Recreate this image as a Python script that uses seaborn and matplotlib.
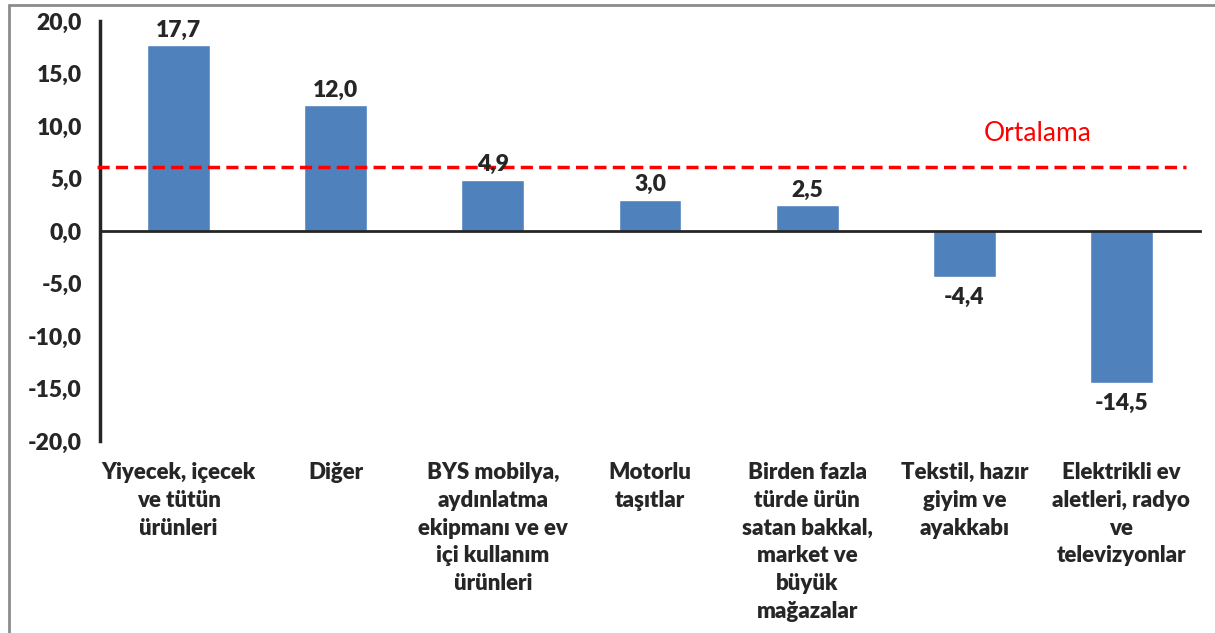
import matplotlib
matplotlib.use("Agg")
import matplotlib.pyplot as plt
from matplotlib.lines import Line2D
import numpy as np
import pandas as pd
import seaborn as sns

# chart data
categories = [
    "Yiyecek, içecek\nve tütün\nürünleri",
    "Diğer",
    "BYS mobilya,\naydınlatma\nekipmanı ve ev\niçi kullanım\nürünleri",
    "Motorlu\ntaşıtlar",
    "Birden fazla\ntürde ürün\nsatan bakkal,\nmarket ve\nbüyük\nmağazalar",
    "Tekstil, hazır\ngiyim ve\nayakkabı",
    "Elektrikli ev\naletleri, radyo\nve\ntelevizyonlar",
]
values = [17.7, 12.0, 4.9, 3.0, 2.5, -4.4, -14.5]
average = 6.1
average_label = "Ortalama"
y_ticks = [-20, -15, -10, -5, 0, 5, 10, 15, 20]

sns.set_style("white")
plt.rcParams["font.family"] = ["Lato", "DejaVu Sans"]

df = pd.DataFrame({"kategori": range(len(categories)), "deger": values})

fig = plt.figure(figsize=(12.15, 6.33), dpi=100)
ax = fig.add_axes([100 / 1215, 1 - 441 / 633, 1100 / 1215, 420 / 633])

sns.barplot(data=df, x="kategori", y="deger", color="#4F81BD", saturation=1,
            width=0.4, ax=ax, zorder=2)

ax.set_xlim(-0.5, len(categories) - 0.5)
ax.set_ylim(-20, 20)
ax.set_yticks(y_ticks)
ax.set_yticklabels([f"{v:.1f}".replace(".", ",") for v in y_ticks],
                   fontsize=16.5, fontweight="heavy")

# zero line with category boundary ticks
ax.spines["bottom"].set_position(("data", 0))
ax.spines["bottom"].set_linewidth(2)
ax.spines["left"].set_linewidth(2.5)
ax.spines["top"].set_visible(False)
ax.spines["right"].set_visible(False)
ax.set_xticks(np.arange(len(categories) + 1) - 0.5)
ax.set_xticklabels([])
ax.tick_params(axis="x", direction="out", length=6, width=2.5, color="black")
ax.tick_params(axis="y", direction="out", length=7, width=2.5, color="black", pad=6)
ax.set_xlabel("")
ax.set_ylabel("")

# average line
ax.axhline(average, color="#FF0000", linestyle=(0, (3.5, 1.8)), linewidth=2.5,
           xmin=-0.003, xmax=0.987, zorder=3, clip_on=False)
ax.text(5.47, 9.3, average_label, color="#FF0000", fontsize=19,
        ha="center", va="center")

# value labels
for i, v in enumerate(values):
    lbl = f"{v:.1f}".replace(".", ",")
    if v >= 0:
        ax.text(i, v + 0.4, lbl, ha="center", va="bottom", fontsize=16.5,
                fontweight="heavy", zorder=4)
    else:
        ax.text(i, v - 0.9, lbl, ha="center", va="top", fontsize=16.5,
                fontweight="heavy", zorder=4)

# category labels below the plot
for i, c in enumerate(categories):
    ax.text(i, -0.05, c, transform=ax.get_xaxis_transform(), ha="center",
            va="top", fontsize=16, fontweight="heavy", linespacing=1.4)

# frame of the chart area
fig.add_artist(Line2D([9 / 1215, 9 / 1215], [0, 1 - 5 / 633], color="#8C8C8C",
                      linewidth=2, transform=fig.transFigure))
fig.add_artist(Line2D([9 / 1215, 1], [1 - 5 / 633, 1 - 5 / 633], color="#8C8C8C",
                      linewidth=2, transform=fig.transFigure))

fig.savefig("out.png", dpi=100)
